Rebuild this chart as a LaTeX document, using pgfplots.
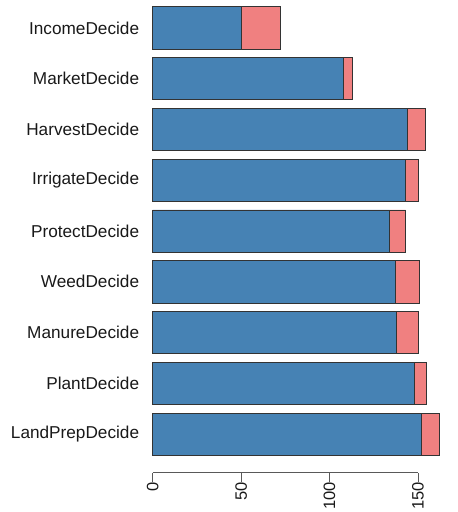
\documentclass[border=0pt]{standalone}
\usepackage{fontspec}
\setmainfont{Liberation Sans}
\usepackage{pgfplots}
\pgfplotsset{compat=1.18}
\definecolor{barblue}{RGB}{70,130,180}
\definecolor{barred}{RGB}{240,128,128}
\begin{document}
\begin{tikzpicture}
\useasboundingbox (0,0) rectangle (458pt,512pt);
\begin{axis}[
  at={(152.7pt,39.3pt)}, anchor=south west,
  scale only axis, width=265.3pt, height=472.7pt,
  xmin=0, xmax=150, ymin=-0.76, ymax=8.55,
  clip=false,
  xbar stacked, bar width=0.83,
  axis x line*=bottom, axis y line*=left,
  y axis line style={draw=none},
  ytick={0,...,8},
  yticklabels={LandPrepDecide,PlantDecide,ManureDecide,WeedDecide,ProtectDecide,IrrigateDecide,HarvestDecide,MarketDecide,IncomeDecide},
  ytick style={draw=none},
  yticklabel style={anchor=east, inner sep=0pt, xshift=-4.4pt, font=\fontsize{17.2}{20}\selectfont, text=black!90},
  xtick={0,50,100,150},
  tick align=outside,
  major tick length=9pt,
  x axis line style={black!65, line width=0.9pt, -},
  xtick style={black!65, line width=0.9pt},
  xticklabel style={rotate=90, anchor=east, inner sep=0pt, font=\fontsize{16.5}{20}\selectfont, text=black!90},
  /pgf/number format/assume math mode=true,
]
\addplot[fill=barblue, draw=black!80, line width=0.7pt] coordinates {
(152,0) (148,1) (138,2) (137,3) (134,4) (143,5) (144,6) (108,7) (50,8)};
\addplot[fill=barred, draw=black!80, line width=0.7pt] coordinates {
(10,0) (7,1) (12,2) (14,3) (9,4) (7,5) (10,6) (5,7) (22,8)};
\end{axis}
\end{tikzpicture}
\end{document}
